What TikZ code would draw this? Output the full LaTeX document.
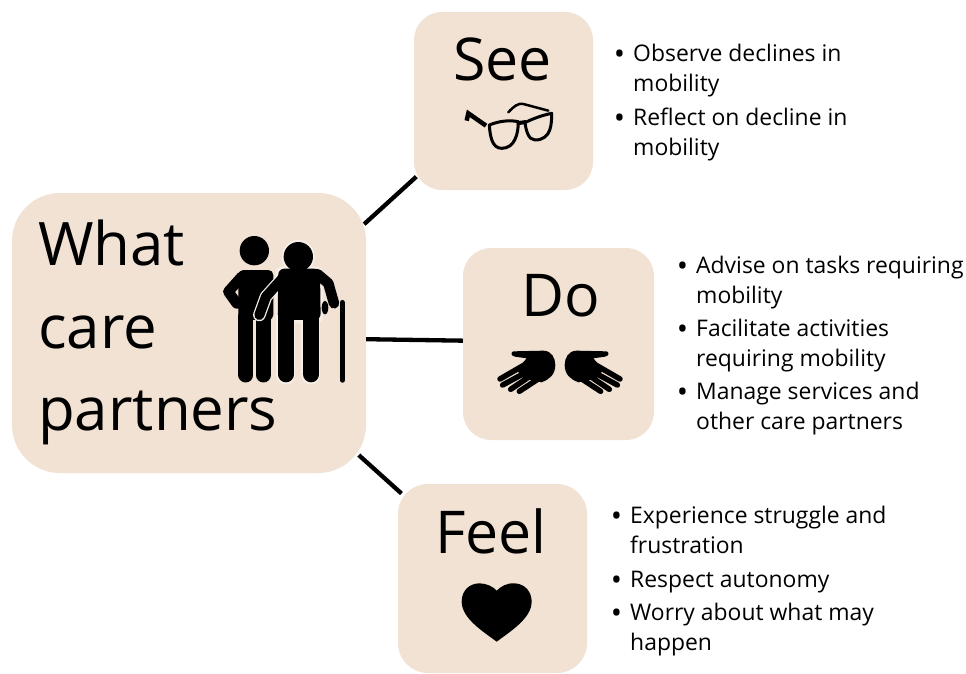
\documentclass[tikz,border=0pt]{standalone}
\usepackage{fontspec}
\setmainfont{Open Sans}
\definecolor{boxfill}{HTML}{F1E2D3}
\colorlet{halocol}{boxfill!55!white}
\tikzset{
 x=1pt,y=-1pt,
 card/.style={draw=none,fill=boxfill,rounded corners=#1,inner sep=0pt},
 bigword/.style={font=\fontsize{60}{60}\selectfont,anchor=base west,inner sep=0pt},
 midword/.style={font=\fontsize{59}{59}\selectfont,anchor=base west,inner sep=0pt},
 item/.style={font=\fontsize{22.9}{29.5}\selectfont,anchor=base west,inner sep=0pt,align=left},
 link/.style={line width=4.3pt,black},
 limb/.style={line width=#1,line cap=round,line join=round,black},
 halo/.style={line width=#1,line cap=round,line join=round,halocol}
}
\newcommand{\bul}{\llap{\raisebox{-3.4pt}{\fontsize{30}{30}\selectfont •}\hspace{8pt}}}
\begin{document}
\begin{tikzpicture}
\useasboundingbox (0,0) rectangle (966,673);
\fill[white] (0,0) rectangle (966,673);
\begin{scope}
\clip (0,0) rectangle (966,673);
\node[card=48pt,minimum width=354pt,minimum height=280pt] (what) at (189,333) {};
\node[card=28pt,minimum width=179pt,minimum height=178pt] (see) at (503.5,101) {};
\node[card=28pt,minimum width=191pt,minimum height=192pt] (do) at (558.5,344) {};
\node[card=30pt,minimum width=189pt,minimum height=189pt] (feel) at (492.5,578.5) {};
\end{scope}
\draw[link,shorten <=-2.8pt,shorten >=-3.4pt] (what.32) -- (see.221.65);
\draw[link] (what.-2.8) -- (do.178.8);
\draw[link,shorten <=-10pt,shorten >=-5pt] (what.-36.2) -- (feel.137.5);
% titles
\node[bigword] (w1) at (38,265) {What};
\node[bigword] (w2) at (38,348) {care};
\node[bigword] (w3) at (38,430) {partners};
\node[midword] (tsee) at (453,80) {See};
\node[midword] (tdo) at (521,316) {Do};
\node[midword] (tfeel) at (435,553) {Feel};
% lists
\node[item] (s1) at (633,91) {\bul Observe declines in\\mobility};
\node[item] (s2) at (633,155) {\bul Reflect on decline in\\mobility};
\node[item] (d1) at (696,303) {\bul Advise on tasks requiring\\mobility};
\node[item] (d2) at (696,366) {\bul Facilitate activities\\requiring mobility};
\node[item] (d3) at (696,429) {\bul Manage services and\\other care partners};
\node[item] (f1) at (630,553) {\bul Experience struggle and\\frustration};
\node[item] (f2) at (630,587) {\bul Respect autonomy};
\node[item] (f3) at (630,650) {\bul Worry about what may\\happen};
% people icon
\begin{scope}[shift={(210,220)},x=0.3333pt,y=-0.3333pt]
 \fill (133,92) circle (44);
 \fill[rounded corners=5pt] (85,150) -- (190,150) -- (190,300) -- (85,300) -- cycle;
 \draw[limb=15pt] (108,290) -- (108,465);
 \draw[limb=15pt] (160,290) -- (160,465);
 \draw[limb=10.5pt] (95,170) -- (55,215) -- (80,250) -- (150,250);
 % second person: light outline, then black
 \fill[halocol,rounded corners=5pt] (197,140) -- (338,140) -- (338,310) -- (197,310) -- cycle;
 \draw[halo=19pt] (228,290) -- (228,465);
 \draw[halo=19pt] (303,290) -- (303,465);
 \fill[halocol] (265,110) circle (50);
 \draw[halo=12.5pt] (222,170) -- (168,230) -- (148,285);
 \fill[rounded corners=6pt] (205,146) -- (330,146) -- (332,300) -- (203,300) -- cycle;
 \draw[limb=16pt] (228,290) -- (228,463);
 \draw[limb=16pt] (304,290) -- (304,463);
 \fill (265,110) circle (44);
 \draw[limb=10pt] (222,170) -- (168,230) -- (148,285);
 \draw[limb=10.5pt] (322,162) -- (355,190) -- (372,250);
 \fill (345,263) ellipse (10 and 20);
 \draw[limb=5.5pt] (397,480) -- (397,248);
\end{scope}
% glasses icon
\begin{scope}[shift={(450,90)},x=0.3333pt,y=-0.3333pt]
 \draw[line width=3pt,line join=round] (118,105) .. controls (150,92) and (180,90) .. (205,95) .. controls (205,130) and (195,175) .. (155,175) .. controls (125,175) and (120,135) .. (118,105) -- cycle;
 \draw[line width=3pt,line join=round] (225,98) .. controls (250,85) and (280,75) .. (305,70) .. controls (305,100) and (305,150) .. (255,150) .. controls (235,150) and (228,120) .. (225,98) -- cycle;
 \draw[line width=4pt] (200,100) -- (228,96);
 \draw[line width=4.5pt,line join=miter] (50,92) -- (55,70) -- (108,107);
 \draw[line width=2.5pt,line cap=round] (175,67) .. controls (190,50) and (205,38) .. (220,42) -- (295,62);
\end{scope}
% hands icon
\begin{scope}[shift={(480,340)},x=0.3333pt,y=-0.3333pt]
 \foreach \sx/\ox in {1/0,-1/480}{
 \begin{scope}[shift={(\ox,0)},xscale=\sx]
 \fill (100,34) -- (190,32) .. controls (215,32) and (226,55) .. (226,75) .. controls (226,105) and (205,120) .. (185,127) -- (130,115) -- (110,90) -- (140,55) -- (105,50) .. controls (92,48) and (92,36) .. (100,34) -- cycle;
 \draw[limb=5.5pt] (150,65) -- (60,117);
 \draw[limb=5.5pt] (160,85) -- (68,135);
 \draw[limb=5.5pt] (170,95) -- (92,148);
 \draw[limb=5.5pt] (185,110) -- (118,154);
 \end{scope}}
\end{scope}
% heart icon
\begin{scope}[shift={(450,570)},x=0.3333pt,y=-0.3333pt]
 \fill (140,215) .. controls (100,185) and (35,145) .. (35,95) .. controls (35,60) and (60,40) .. (88,40) .. controls (110,40) and (130,50) .. (140,62) .. controls (152,50) and (170,38) .. (195,40) .. controls (225,42) and (245,65) .. (245,95) .. controls (245,145) and (180,185) .. (140,215) -- cycle;
\end{scope}
\end{tikzpicture}
\end{document}
